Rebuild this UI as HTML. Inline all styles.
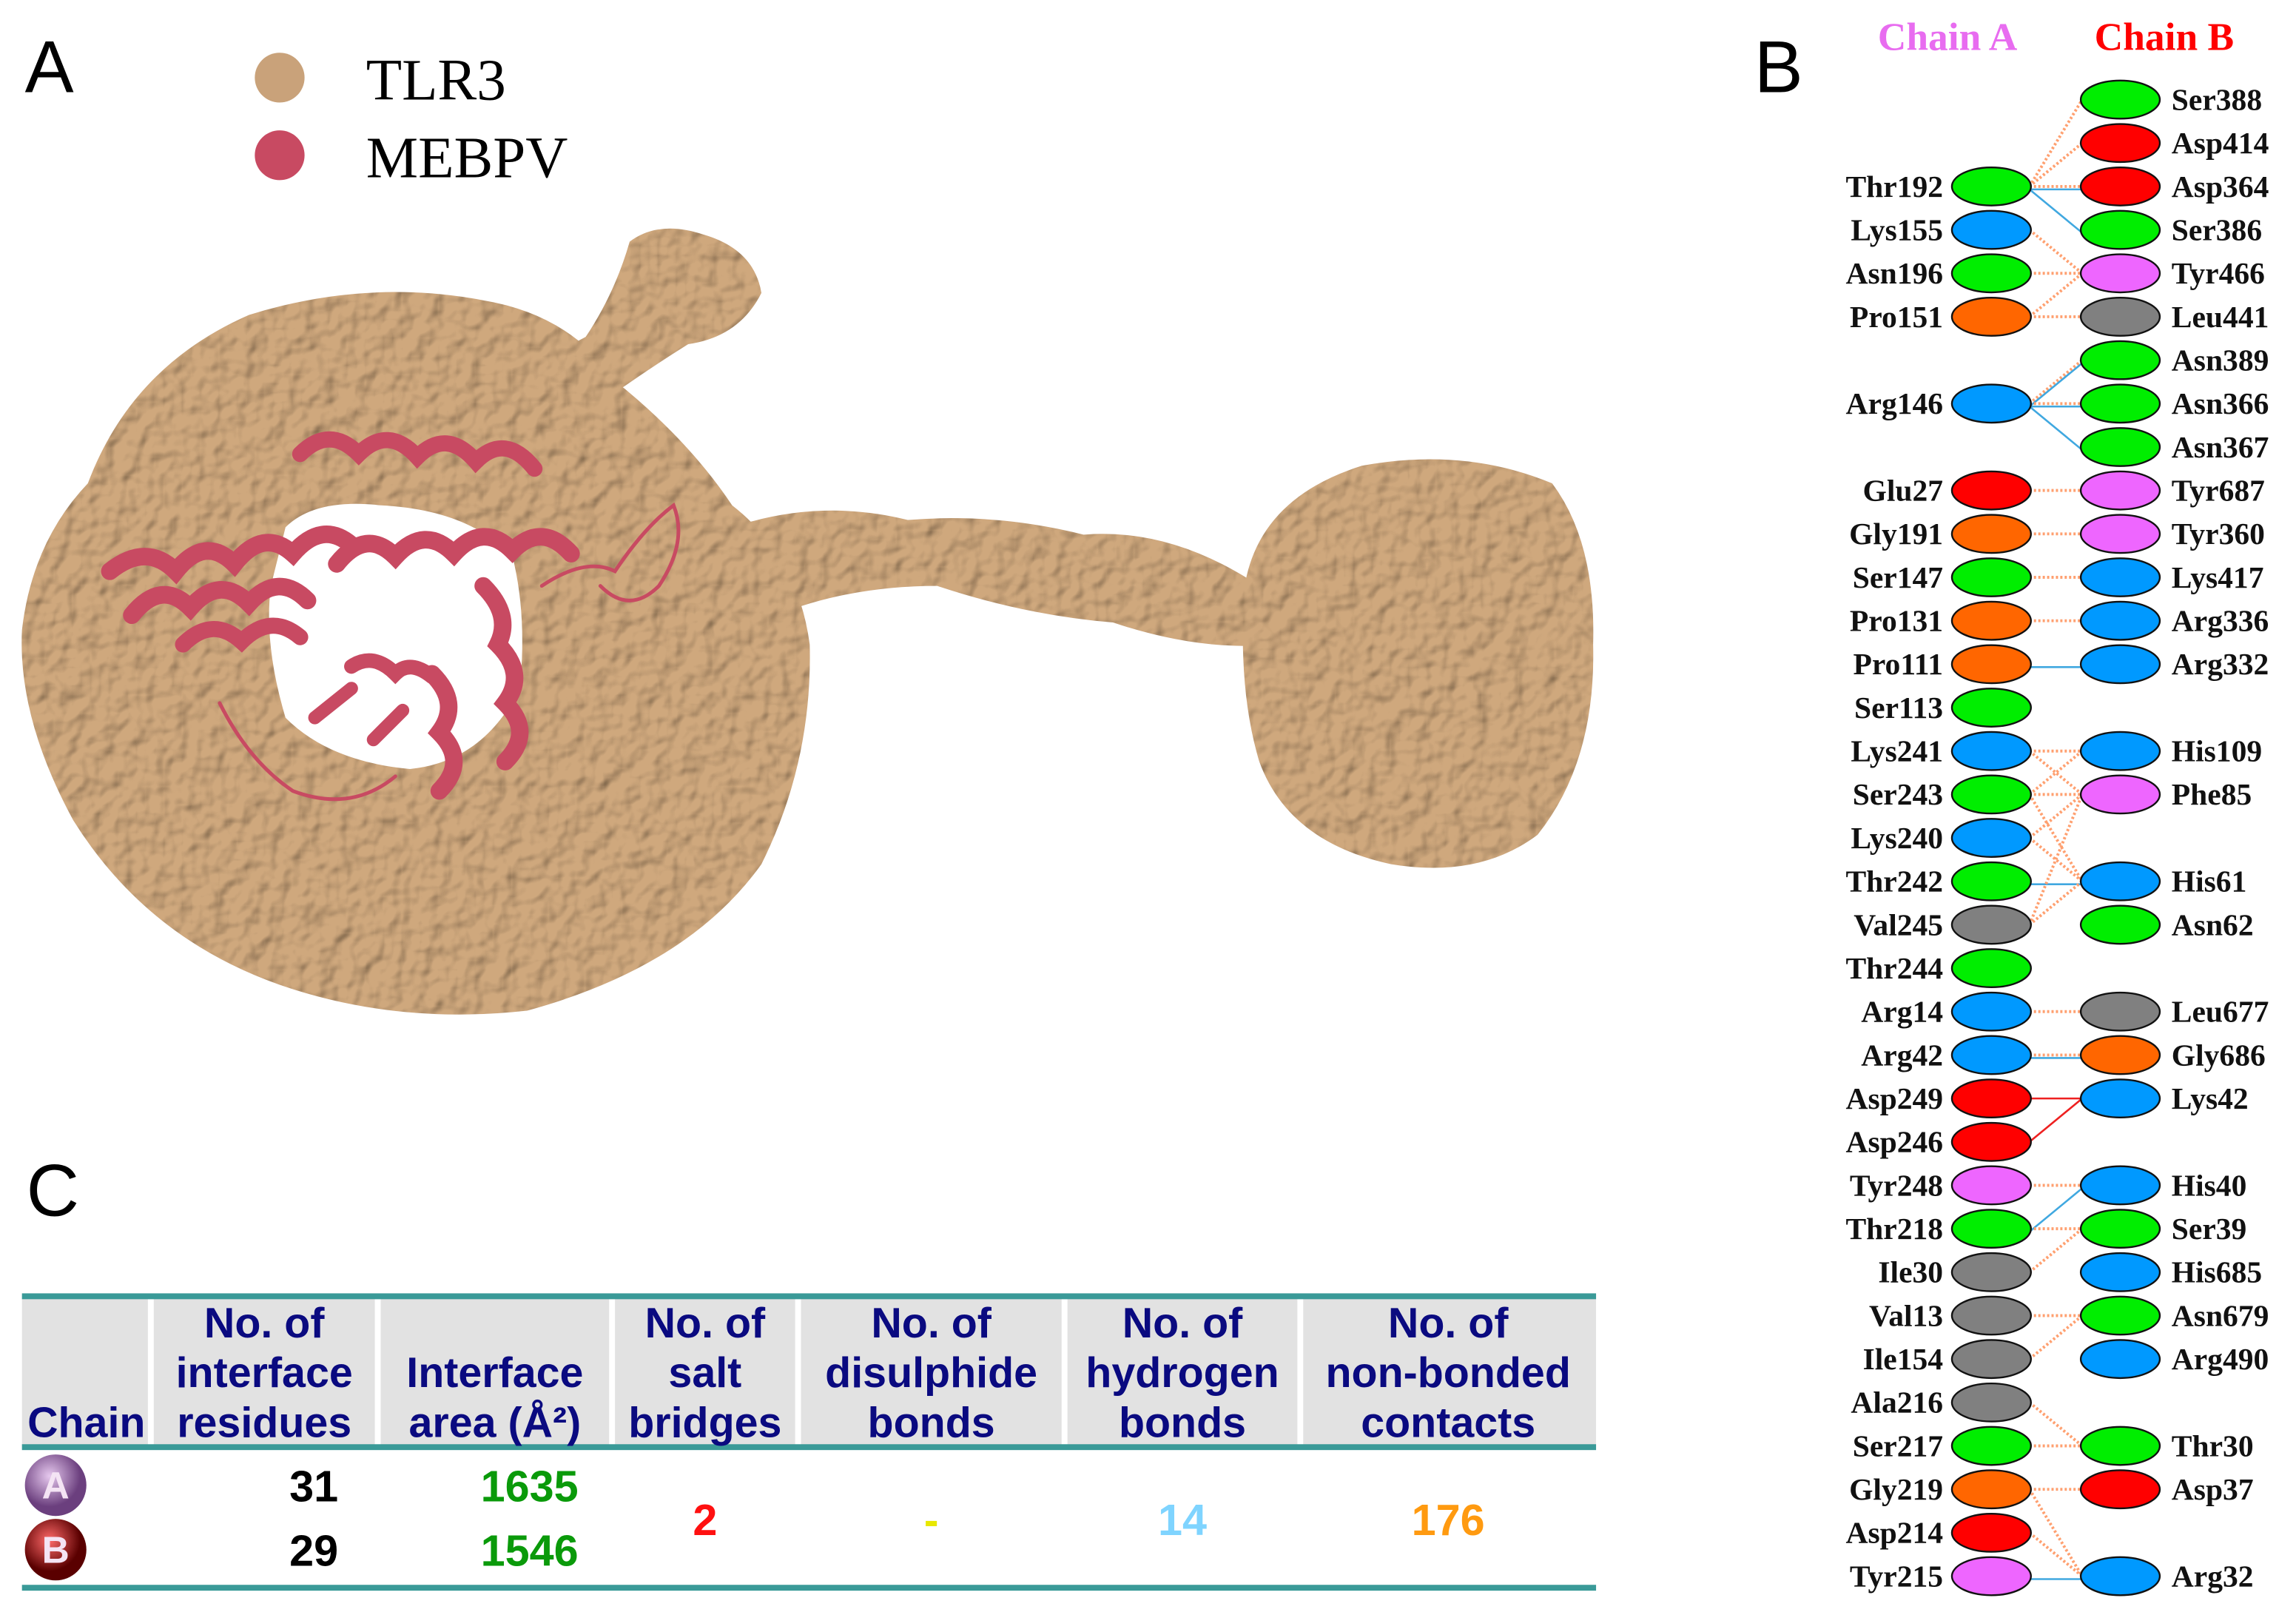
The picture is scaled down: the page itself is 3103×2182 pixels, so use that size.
<!DOCTYPE html>
<html><head><meta charset="utf-8">
<style>
html,body{margin:0;padding:0;background:#fff;}
svg{display:block;}
.lbl{font-family:"Liberation Serif",serif;font-weight:bold;font-size:21px;fill:#111;}
.hdr{font-family:"Liberation Sans Narrow","Liberation Sans",sans-serif;font-weight:bold;font-size:29px;}
</style></head>
<body>
<svg id="fig" xmlns="http://www.w3.org/2000/svg" width="3103" height="2182" viewBox="0 0 1568 1102.6">
<defs>
<filter id="bumpy" x="-5%" y="-5%" width="110%" height="110%">
<feTurbulence type="fractalNoise" baseFrequency="0.08" numOctaves="2" seed="4" result="n"/>
<feDiffuseLighting in="n" surfaceScale="2.8" diffuseConstant="1.15" lighting-color="#ffffff" result="l"><feDistantLight azimuth="225" elevation="55"/></feDiffuseLighting>
<feComposite in="l" in2="SourceGraphic" operator="in" result="lc"/>
<feBlend in="SourceGraphic" in2="lc" mode="multiply"/>
</filter>
<radialGradient id="gA" cx="40%" cy="35%"><stop offset="0" stop-color="#e6c8ee"/><stop offset="1" stop-color="#6b3f7e"/></radialGradient>
<radialGradient id="gB" cx="40%" cy="35%"><stop offset="0" stop-color="#ff6a6a"/><stop offset="1" stop-color="#5a0000"/></radialGradient>
</defs>

<text x="17" y="63" font-family="Liberation Sans,sans-serif" font-size="50">A</text>
<circle cx="191" cy="53" r="17" fill="#c9a27a"/>
<text x="250" y="68" font-family="Liberation Serif,serif" font-size="40">TLR3</text>
<circle cx="191" cy="106" r="17" fill="#c84a62"/>
<text x="250" y="121" font-family="Liberation Serif,serif" font-size="40">MEBPV</text>

<g filter="url(#bumpy)" fill="#cfa87d">
  <path fill-rule="evenodd" d="M60 330 Q90 250 170 215 Q250 190 330 205 Q390 215 420 260 Q470 300 500 345 Q545 380 553 440 Q555 520 520 590 Q470 660 360 690 Q270 700 190 672 Q100 640 50 560 Q12 490 15 430 Q22 370 60 330 Z
  M195 360 Q215 340 260 345 Q320 348 350 380 Q360 420 355 470 Q330 520 280 525 Q225 520 195 490 Q180 440 185 400 Z"/>
  <path d="M330 290 Q360 250 400 230 Q420 200 430 165 Q450 150 480 160 Q515 170 520 200 Q505 230 470 235 Q430 260 390 290 Q360 300 340 300 Z"/>
  <path d="M500 360 Q560 340 620 355 Q680 350 740 365 Q800 360 860 400 Q880 420 870 440 Q820 445 760 425 Q700 420 640 400 Q580 400 530 420 Q505 400 500 360 Z"/>
  <path d="M850 400 Q860 340 930 318 Q1000 305 1060 330 Q1090 370 1088 440 Q1090 520 1050 570 Q1010 600 950 590 Q880 575 860 520 Q845 470 850 400 Z"/>
</g>

<g fill="none" stroke="#c84a62" stroke-linecap="round">
  <path d="M75 390 Q100 370 120 390 Q140 365 160 385 Q180 360 200 378 Q220 355 240 372" stroke-width="12"/>
  <path d="M90 420 Q110 395 130 415 Q150 392 170 412 Q190 390 210 410" stroke-width="12"/>
  <path d="M125 440 Q145 420 165 438 Q185 418 205 435" stroke-width="11"/>
  <path d="M205 310 Q225 290 245 310 Q265 290 285 312 Q305 292 325 315 Q345 295 365 320" stroke-width="11"/>
  <path d="M230 385 Q250 360 270 380 Q290 358 310 378 Q330 356 350 376 Q370 356 390 378" stroke-width="12"/>
  <path d="M330 400 Q350 420 340 440 Q360 460 345 480 Q365 500 345 520" stroke-width="12"/>
  <path d="M295 460 Q315 480 300 500 Q320 520 300 540" stroke-width="12"/>
  <path d="M240 455 Q255 445 270 460 Q280 450 295 462" stroke-width="10"/>
  <path d="M215 490 L240 470 M255 505 L275 485" stroke-width="9"/>
  <path d="M370 400 Q400 380 420 390 Q440 360 460 345 Q470 370 450 400 Q430 420 410 400 M150 480 Q170 520 200 540 Q240 555 270 530" stroke-width="2.5"/>
</g>

<text x="1198" y="63" font-family="Liberation Sans,sans-serif" font-size="50">B</text>
<text x="1330" y="34" text-anchor="middle" font-family="Liberation Serif,serif" font-weight="bold" font-size="27" fill="#e86cf0">Chain A</text>
<text x="1478" y="34" text-anchor="middle" font-family="Liberation Serif,serif" font-weight="bold" font-size="27" fill="#ff0000">Chain B</text>
<g id="links"></g>
<g id="nodes"></g>

<text x="18" y="830" font-family="Liberation Sans,sans-serif" font-size="50">C</text>
<g id="table"></g>
</svg>
<script>
const leftRes = ["","","Thr192","Lys155","Asn196","Pro151","","Arg146","","Glu27","Gly191","Ser147","Pro131","Pro111","Ser113","Lys241","Ser243","Lys240","Thr242","Val245","Thr244","Arg14","Arg42","Asp249","Asp246","Tyr248","Thr218","Ile30","Val13","Ile154","Ala216","Ser217","Gly219","Asp214","Tyr215"];
const leftType = ["","","g","b","g","o","","b","","r","o","g","o","o","g","b","g","b","g","k","g","b","b","r","r","m","g","k","k","k","k","g","o","r","m"];
const rightRes = ["Ser388","Asp414","Asp364","Ser386","Tyr466","Leu441","Asn389","Asn366","Asn367","Tyr687","Tyr360","Lys417","Arg336","Arg332","","His109","Phe85","","His61","Asn62","","Leu677","Gly686","Lys42","","His40","Ser39","His685","Asn679","Arg490","","Thr30","Asp37","","Arg32"];
const rightType = ["g","r","r","g","m","k","g","g","g","m","m","b","b","b","","b","m","","b","g","","k","o","b","","b","g","b","g","b","","g","r","","b"];
const links = [[2,0,"n"],[2,1,"n"],[2,2,"n"],[2,2,"h"],[2,3,"h"],[3,4,"n"],[4,4,"n"],[5,4,"n"],[5,5,"n"],[7,6,"n"],[7,6,"h"],[7,7,"n"],[7,7,"h"],[7,8,"h"],[9,9,"n"],[10,10,"n"],[11,11,"n"],[12,12,"n"],[13,13,"h"],[15,15,"n"],[15,16,"n"],[16,15,"n"],[16,16,"n"],[16,18,"n"],[17,16,"n"],[17,18,"n"],[18,18,"h"],[19,18,"n"],[19,16,"n"],[21,21,"n"],[22,22,"n"],[22,22,"h"],[23,23,"s"],[24,23,"s"],[25,25,"n"],[26,25,"h"],[26,26,"n"],[27,26,"n"],[28,28,"n"],[29,28,"n"],[30,31,"n"],[31,31,"n"],[32,32,"n"],[32,34,"n"],[33,34,"n"],[34,34,"h"]];
const colors = {g:"#00ee00",b:"#0099ff",o:"#ff6600",r:"#ff0000",m:"#ee66ff",k:"#808080"};
const headers = [["Chain"],["No. of","interface","residues"],["Interface","area (Å²)"],["No. of","salt","bridges"],["No. of","disulphide","bonds"],["No. of","hydrogen","bonds"],["No. of","non-bonded","contacts"]];
const residues = ["31","29"];
const areas = ["1635","1546"];
const shared = ["2","-","14","176"];
const sharedColors = ["#ff1010","#e8e800","#7fd4ff","#ff9a10"];

const NS="http://www.w3.org/2000/svg";
const y0=68, dy=29.65, xl=1360, xr=1448;
function rowY(i){return y0+i*dy;}
const gl=document.getElementById('links');
links.forEach(function(l){
  const ln=document.createElementNS(NS,'line');
  
  
  const off = l[2]==="h"?2:0;
  ln.setAttribute('x1',xl+26);ln.setAttribute('y1',rowY(l[0])+off);
  ln.setAttribute('x2',xr-26);ln.setAttribute('y2',rowY(l[1])+off);
  ln.setAttribute('stroke',l[2]==="n"?"#ffa070":(l[2]==="h"?"#40a8e0":"#ee2020"));
  ln.setAttribute('stroke-width',l[2]==="n"?2:1.3);
  if(l[2]==="n") ln.setAttribute('stroke-dasharray','1.5 1.5');
  gl.appendChild(ln);
});
const gn=document.getElementById('nodes');
function node(cx,cy,type,label,side){
  const e=document.createElementNS(NS,'ellipse');
  
  
  e.setAttribute('cx',cx);e.setAttribute('cy',cy);e.setAttribute('rx',27);e.setAttribute('ry',13);
  e.setAttribute('fill',colors[type]);e.setAttribute('stroke','#111');e.setAttribute('stroke-width',1.2);
  gn.appendChild(e);
  const t=document.createElementNS(NS,'text');
  
  
  t.setAttribute('class','lbl');
  t.setAttribute('y',cy+7);
  if(side==='L'){t.setAttribute('x',cx-33);t.setAttribute('text-anchor','end');}
  else{t.setAttribute('x',cx+35);}
  t.textContent=label;
  gn.appendChild(t);
}
leftRes.forEach(function(r,i){ if(r) node(xl,rowY(i),leftType[i],r,'L'); });
rightRes.forEach(function(r,i){ if(r) node(xr,rowY(i),rightType[i],r,'R'); });

const colEdges=[15,103,258,418,545,727,888,1090];
const gt=document.getElementById('table');
function rect(x,y,w,h,f,name){const r=document.createElementNS(NS,'rect');
  
  
  r.setAttribute('x',x);r.setAttribute('y',y);r.setAttribute('width',w);r.setAttribute('height',h);r.setAttribute('fill',f);gt.appendChild(r);}
function txt(x,y,s,fill,anchor,size,name){const t=document.createElementNS(NS,'text');
  
  
  t.setAttribute('x',x);t.setAttribute('y',y);t.setAttribute('class','hdr');
  t.style.fill=fill; if(anchor)t.setAttribute('text-anchor',anchor);
  if(size)t.style.fontSize=size+'px';
  t.textContent=s;gt.appendChild(t);return t;}
rect(15,886,1075,101,"#e2e2e2","header-background");
for(let i=1;i<colEdges.length-1;i++) rect(colEdges[i]-2,886,4,101,"#ffffff","header-separator");
rect(15,883,1075,4,"#3a9a98","table-top-rule");
rect(15,986,1075,4,"#3a9a98","header-bottom-rule");
rect(15,1082,1075,4,"#3a9a98","table-bottom-rule");
headers.forEach(function(h,i){
  const cx=(colEdges[i]+colEdges[i+1])/2;
  const n=h.length;
  h.forEach(function(line,j){
    const y=981-(n-1-j)*34;
    txt(cx,y,line,'#0a0a80','middle',null,'column-header');
  });
});
const rowYs=[1025,1069];
const chainNames=["A","B"];
chainNames.forEach(function(c,i){
  const ci=document.createElementNS(NS,'circle');
  
  
  ci.setAttribute('cx',38);ci.setAttribute('cy',rowYs[i]-11);ci.setAttribute('r',21);
  ci.setAttribute('fill',i===0?'url(#gA)':'url(#gB)');gt.appendChild(ci);
  txt(38,rowYs[i]-2,c,'#f4e4f4','middle',26,'chain-letter');
  txt(231,rowYs[i],residues[i],'#000','end',30,'interface-residues-value');
  txt(395,rowYs[i],areas[i],'#0a9a0a','end',30,'interface-area-value');
});
shared.forEach(function(v,k){
  const cx=(colEdges[k+3]+colEdges[k+4])/2;
  txt(cx,1048,v,sharedColors[k],'middle',30,'shared-value');
});
</script>
</body></html>
